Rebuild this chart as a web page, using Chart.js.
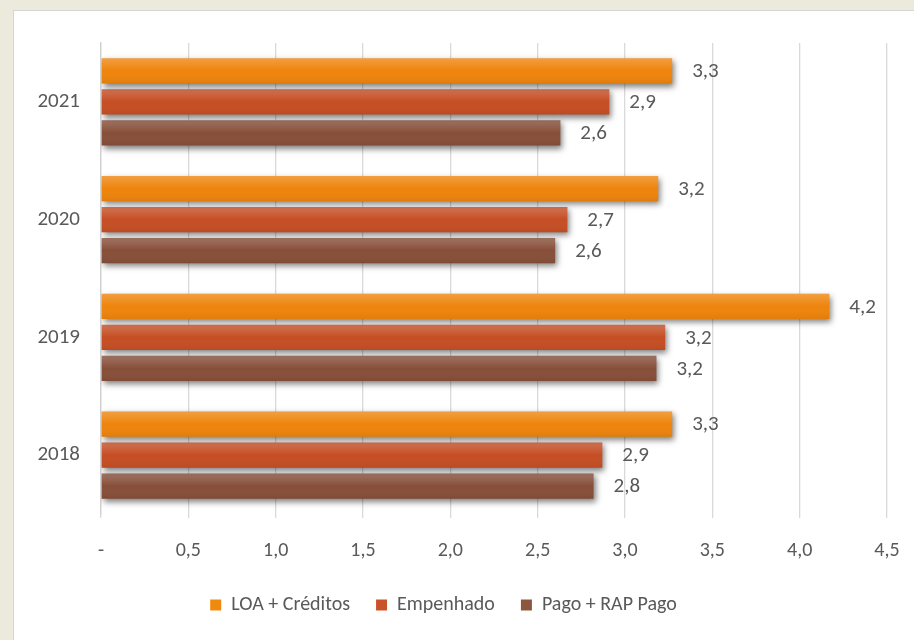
<!DOCTYPE html>
<html>
<head>
<meta charset="utf-8">
<script src="https://cdn.jsdelivr.net/npm/chart.js@4.4.0/dist/chart.umd.min.js"></script>
<style>
  html, body { margin: 0; padding: 0; background: #ECEADC; }
  #wrap { width: 914px; height: 640px; position: relative; }
</style>
</head>
<body>
<div id="wrap"><canvas id="grafico" width="914" height="640"></canvas></div>
<script>
// dados (R$ bilhões)
const anos = ['2021', '2020', '2019', '2018'];
const loaCreditos = [3.27, 3.19, 4.17, 3.27];
const empenhado = [2.91, 2.67, 3.23, 2.87];
const pagoRap = [2.63, 2.60, 3.18, 2.82];
const ticksX = [0, 0.5, 1.0, 1.5, 2.0, 2.5, 3.0, 3.5, 4.0, 4.5];

const fonte = 'Carlito, Lato, "Open Sans", sans-serif';
const cinza = '#595959';

function fmt(v) {
  return v.toFixed(1).replace('.', ',');
}

// painel branco atras do grafico
const painel = {
  id: 'painel',
  beforeDraw(chart) {
    const c = chart.ctx;
    c.save();
    c.fillStyle = '#ECEADC';
    c.fillRect(0, 0, chart.width, chart.height);
    c.fillStyle = '#ffffff';
    c.strokeStyle = '#D6D6D0';
    c.lineWidth = 1;
    c.fillRect(13, 10, chart.width - 13, chart.height - 10);
    c.strokeRect(13.5, 10.5, chart.width, chart.height);
    c.restore();
  }
};

// sombra + brilho das barras
const sombra = {
  id: 'sombra',
  beforeDatasetDraw(chart) {
    const c = chart.ctx;
    c.save();
    c.shadowColor = 'rgba(0,0,0,0.5)';
    c.shadowBlur = 6;
    c.shadowOffsetX = 2;
    c.shadowOffsetY = 3;
  },
  afterDatasetDraw(chart, args) {
    const c = chart.ctx;
    c.restore();
    // brilho vertical em cada barra
    args.meta.data.forEach(el => {
      const h = el.height;
      const top = el.y - h / 2;
      const g = c.createLinearGradient(0, top, 0, top + h);
      g.addColorStop(0, 'rgba(255,255,255,0.22)');
      g.addColorStop(0.5, 'rgba(255,255,255,0.0)');
      g.addColorStop(1, 'rgba(0,0,0,0.06)');
      c.fillStyle = g;
      c.fillRect(el.base, top, el.x - el.base, h);
    });
  }
};

// rotulos de valor
const rotulos = {
  id: 'rotulos',
  afterDatasetsDraw(chart) {
    const c = chart.ctx;
    c.save();
    c.font = '21px ' + fonte;
    c.fillStyle = cinza;
    c.textAlign = 'left';
    c.textBaseline = 'middle';
    chart.data.datasets.forEach((ds, i) => {
      chart.getDatasetMeta(i).data.forEach((el, j) => {
        c.fillText(fmt(ds.data[j]), el.x + 20, el.y + 1);
      });
    });
    c.restore();
  }
};

new Chart(document.getElementById('grafico'), {
  type: 'bar',
  data: {
    labels: anos,
    datasets: [
      { label: 'LOA + Créditos', data: loaCreditos, backgroundColor: '#EE840C' },
      { label: 'Empenhado', data: empenhado, backgroundColor: '#C64E24' },
      { label: 'Pago + RAP Pago', data: pagoRap, backgroundColor: '#874F39' }
    ]
  },
  options: {
    indexAxis: 'y',
    responsive: false,
    animation: false,
    categoryPercentage: 0.79,
    barPercentage: 0.82,
    layout: { padding: { top: 43, right: 27, left: 0, bottom: 15 } },
    scales: {
      x: {
        min: 0,
        max: 4.5,
        afterBuildTicks(scale) {
          scale.ticks = ticksX.map(v => ({ value: v }));
        },
        afterFit(scale) {
          scale.height = 55;
          scale.paddingRight = 0;
          scale.paddingLeft = 0;
        },
        grid: { color: '#D9D9D9', lineWidth: 1.3, tickLength: 4, drawTicks: true },
        border: { display: false },
        ticks: {
          color: cinza,
          font: { family: fonte, size: 20 },
          padding: 21,
          callback: v => v === 0 ? '-' : fmt(v)
        }
      },
      y: {
        afterFit(scale) { scale.width = 101; },
        grid: { display: false, tickLength: 0 },
        border: { color: '#D0D0D0', width: 1.3 },
        ticks: {
          color: cinza,
          font: { family: fonte, size: 21 },
          padding: 21
        }
      }
    },
    plugins: {
      tooltip: { enabled: false },
      legend: {
        position: 'bottom',
        labels: {
          color: cinza,
          font: { family: fonte, size: 20 },
          boxWidth: 11,
          boxHeight: 11,
          padding: 26,
          generateLabels(chart) {
            const cores = ['#F08A0E', '#C8532A', '#8C563E'];
            return chart.data.datasets.map((ds, i) => ({
              text: ds.label,
              fillStyle: cores[i],
              strokeStyle: cores[i],
              lineWidth: 0,
              fontColor: cinza,
              datasetIndex: i
            }));
          }
        }
      }
    }
  },
  plugins: [painel, sombra, rotulos]
});
</script>
</body>
</html>
